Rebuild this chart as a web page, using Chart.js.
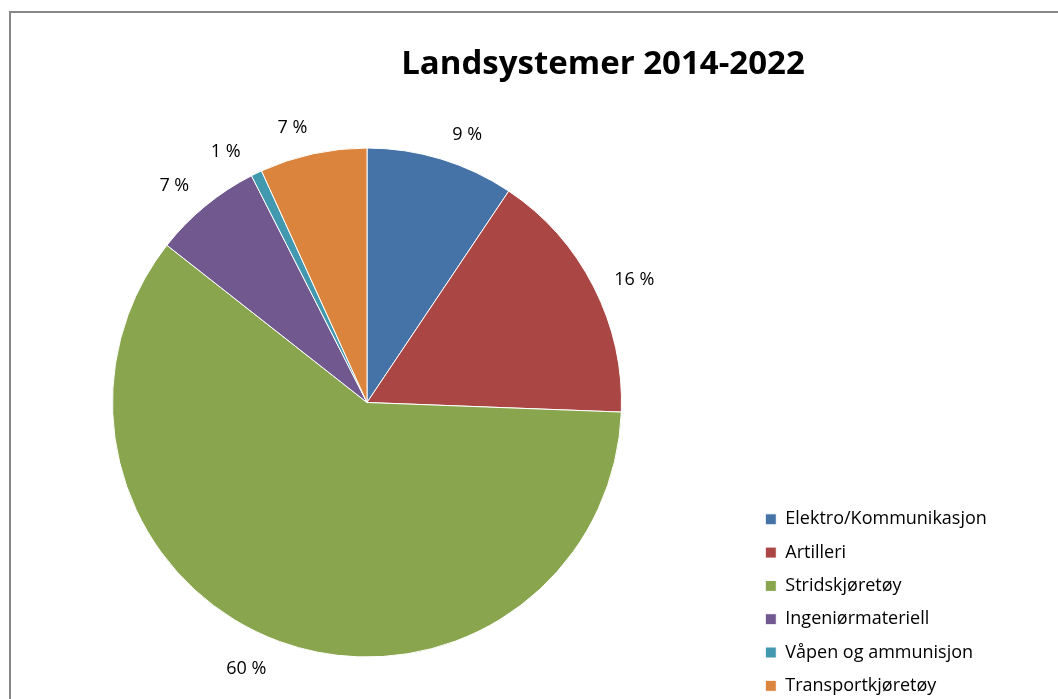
<!DOCTYPE html>
<html>
<head>
<meta charset="utf-8">
<script src="https://cdn.jsdelivr.net/npm/chart.js@4/dist/chart.umd.min.js"></script>
<style>
  body { margin: 0; background: #fff; overflow: hidden; }
  #frame {
    position: absolute; left: 9px; top: 11px;
    border-left: 2px solid #878787; border-top: 2px solid #878787;
    width: 1184px; height: 690px; background: #fff;
  }
  canvas { display: block; }
</style>
</head>
<body>
<div id="frame"><canvas id="pie" width="1184" height="690"></canvas></div>
<script>
const categories = ['Elektro/Kommunikasjon', 'Artilleri', 'Stridskjøretøy', 'Ingeniørmateriell', 'Våpen og ammunisjon', 'Transportkjøretøy'];
const shares = [9.4, 16.2, 60.0, 6.9, 0.7, 6.8];
const sliceColors = ['#4572A7', '#AA4643', '#89A54E', '#71588F', '#4198AF', '#DB843D'];
// label placement tweaks (degrees) so labels sit where Excel put them
const labelAngleShift = [3.4, 1.8, 4.5, -1.8, -3.4, -2.8];

// place pie and legend where the original has them
const placement = {
  id: 'placement',
  afterLayout(chart) {
    const cx = 356, cy = 389.5, r = 255;
    Object.assign(chart.chartArea, {
      left: cx - r, right: cx + r, top: cy - r, bottom: cy + r, width: 2 * r, height: 2 * r
    });
    const lg = chart.legend;
    const w = lg.width;
    lg.left = 739; lg.right = 739 + w;
    lg.top = 482; lg.bottom = 482 + 1000;
    lg.height = 1000;
  }
};

// percentage labels outside each slice
const outsideLabels = {
  id: 'outsideLabels',
  afterDatasetsDraw(chart) {
    const ctx = chart.ctx;
    const meta = chart.getDatasetMeta(0);
    ctx.save();
    ctx.font = '18px "Open Sans"';
    ctx.fillStyle = '#000';
    ctx.textAlign = 'center';
    ctx.textBaseline = 'middle';
    meta.data.forEach((arc, i) => {
      const p = arc.getProps(['x', 'y', 'startAngle', 'endAngle', 'outerRadius'], true);
      const mid = (p.startAngle + p.endAngle) / 2 + labelAngleShift[i] * Math.PI / 180;
      const d = p.outerRadius + 30 + 12 * Math.abs(Math.cos(mid));
      ctx.fillText(Math.round(shares[i]) + ' %', p.x + Math.cos(mid) * d, p.y + Math.sin(mid) * d + 3);
    });
    ctx.restore();
  }
};

new Chart(document.getElementById('pie'), {
  type: 'pie',
  data: {
    labels: categories,
    datasets: [{
      data: shares,
      backgroundColor: sliceColors,
      borderColor: '#fff',
      borderWidth: 1
    }]
  },
  options: {
    responsive: false,
    animation: false,
    plugins: {
      title: {
        display: true,
        text: 'Landsystemer 2014-2022',
        color: '#000',
        font: { family: 'Open Sans', size: 33, weight: 'bold' },
        padding: { top: 32, bottom: 10 }
      },
      legend: {
        position: 'right',
        align: 'start',
        labels: {
          color: '#000',
          font: { family: 'Open Sans', size: 18 },
          boxWidth: 11,
          boxHeight: 11,
          padding: 15.3
        }
      },
      tooltip: { enabled: false }
    }
  },
  plugins: [placement, outsideLabels]
});
</script>
</body>
</html>
